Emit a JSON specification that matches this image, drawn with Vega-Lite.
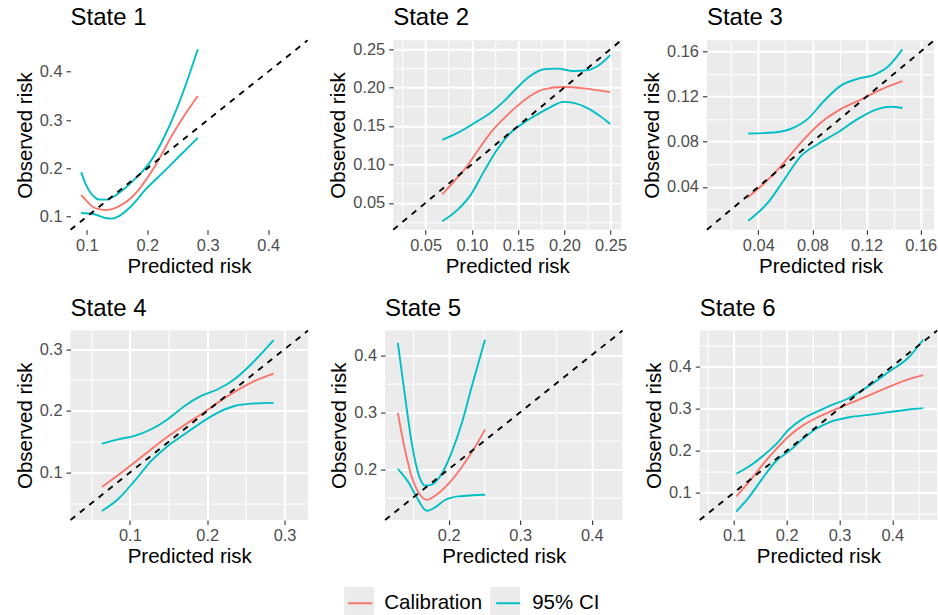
{
"$schema": "https://vega.github.io/schema/vega-lite/v6.json",
"padding": {"left": 14.5, "top": 6.3, "right": 0, "bottom": 0},
"datasets": {
"keys": [{"k": "Calibration"}, {"k": "95% CI"}],
"diag": [
{"p":1,"x":0.073,"y":0.073},{"p":1,"x":0.465,"y":0.465},
{"p":2,"x":0.015,"y":0.015},{"p":2,"x":0.2615,"y":0.2615},
{"p":3,"x":0.002,"y":0.002},{"p":3,"x":0.170,"y":0.170},
{"p":4,"x":0.0232,"y":0.0232},{"p":4,"x":0.3302,"y":0.3302},
{"p":5,"x":0.111,"y":0.111},{"p":5,"x":0.443,"y":0.443},
{"p":6,"x":0.035,"y":0.035},{"p":6,"x":0.485,"y":0.485}
],
"curves": [
{"p":1,"s":"Calibration","l":"c","x":0.0906,"y":0.145},{"p":1,"s":"Calibration","l":"c","x":0.100,"y":0.132},{"p":1,"s":"Calibration","l":"c","x":0.1109,"y":0.1195},{"p":1,"s":"Calibration","l":"c","x":0.122,"y":0.1152},{"p":1,"s":"Calibration","l":"c","x":0.1331,"y":0.1139},{"p":1,"s":"Calibration","l":"c","x":0.144,"y":0.1168},{"p":1,"s":"Calibration","l":"c","x":0.155,"y":0.1228},{"p":1,"s":"Calibration","l":"c","x":0.169,"y":0.1345},{"p":1,"s":"Calibration","l":"c","x":0.1826,"y":0.1506},{"p":1,"s":"Calibration","l":"c","x":0.196,"y":0.173},{"p":1,"s":"Calibration","l":"c","x":0.2101,"y":0.199},{"p":1,"s":"Calibration","l":"c","x":0.224,"y":0.229},{"p":1,"s":"Calibration","l":"c","x":0.2377,"y":0.2612},{"p":1,"s":"Calibration","l":"c","x":0.2597,"y":0.3062},{"p":1,"s":"Calibration","l":"c","x":0.2835,"y":0.3498},
{"p":1,"s":"95% CI","l":"u","x":0.0906,"y":0.1921},{"p":1,"s":"95% CI","l":"u","x":0.098,"y":0.168},{"p":1,"s":"95% CI","l":"u","x":0.1055,"y":0.1506},{"p":1,"s":"95% CI","l":"u","x":0.1125,"y":0.141},{"p":1,"s":"95% CI","l":"u","x":0.1192,"y":0.1355},{"p":1,"s":"95% CI","l":"u","x":0.1331,"y":0.1353},{"p":1,"s":"95% CI","l":"u","x":0.144,"y":0.1412},{"p":1,"s":"95% CI","l":"u","x":0.155,"y":0.1506},{"p":1,"s":"95% CI","l":"u","x":0.1826,"y":0.1817},{"p":1,"s":"95% CI","l":"u","x":0.2046,"y":0.2129},{"p":1,"s":"95% CI","l":"u","x":0.2266,"y":0.2612},{"p":1,"s":"95% CI","l":"u","x":0.2488,"y":0.3234},{"p":1,"s":"95% CI","l":"u","x":0.2653,"y":0.3788},{"p":1,"s":"95% CI","l":"u","x":0.2835,"y":0.4465},
{"p":1,"s":"95% CI","l":"d","x":0.0906,"y":0.1077},{"p":1,"s":"95% CI","l":"d","x":0.1109,"y":0.1056},{"p":1,"s":"95% CI","l":"d","x":0.1331,"y":0.0967},{"p":1,"s":"95% CI","l":"d","x":0.142,"y":0.096},{"p":1,"s":"95% CI","l":"d","x":0.1496,"y":0.0988},{"p":1,"s":"95% CI","l":"d","x":0.1716,"y":0.1195},{"p":1,"s":"95% CI","l":"d","x":0.1992,"y":0.1589},{"p":1,"s":"95% CI","l":"d","x":0.2266,"y":0.1921},{"p":1,"s":"95% CI","l":"d","x":0.2542,"y":0.2266},{"p":1,"s":"95% CI","l":"d","x":0.2835,"y":0.2633},
{"p":2,"s":"Calibration","l":"c","x":0.068,"y":0.0609},{"p":2,"s":"Calibration","l":"c","x":0.0806,"y":0.0775},{"p":2,"s":"Calibration","l":"c","x":0.095,"y":0.098},{"p":2,"s":"Calibration","l":"c","x":0.1058,"y":0.1168},{"p":2,"s":"Calibration","l":"c","x":0.12,"y":0.1408},{"p":2,"s":"Calibration","l":"c","x":0.1345,"y":0.1596},{"p":2,"s":"Calibration","l":"c","x":0.149,"y":0.1758},{"p":2,"s":"Calibration","l":"c","x":0.163,"y":0.189},{"p":2,"s":"Calibration","l":"c","x":0.1777,"y":0.1976},{"p":2,"s":"Calibration","l":"c","x":0.199,"y":0.2007},{"p":2,"s":"Calibration","l":"c","x":0.221,"y":0.199},{"p":2,"s":"Calibration","l":"c","x":0.2496,"y":0.194},
{"p":2,"s":"95% CI","l":"u","x":0.068,"y":0.132},{"p":2,"s":"95% CI","l":"u","x":0.0878,"y":0.143},{"p":2,"s":"95% CI","l":"u","x":0.1058,"y":0.156},{"p":2,"s":"95% CI","l":"u","x":0.12,"y":0.167},{"p":2,"s":"95% CI","l":"u","x":0.1345,"y":0.182},{"p":2,"s":"95% CI","l":"u","x":0.149,"y":0.1998},{"p":2,"s":"95% CI","l":"u","x":0.163,"y":0.215},{"p":2,"s":"95% CI","l":"u","x":0.1777,"y":0.2238},{"p":2,"s":"95% CI","l":"u","x":0.192,"y":0.2247},{"p":2,"s":"95% CI","l":"u","x":0.21,"y":0.2216},{"p":2,"s":"95% CI","l":"u","x":0.2245,"y":0.2225},{"p":2,"s":"95% CI","l":"u","x":0.2389,"y":0.2303},{"p":2,"s":"95% CI","l":"u","x":0.2496,"y":0.2421},
{"p":2,"s":"95% CI","l":"d","x":0.068,"y":0.026},{"p":2,"s":"95% CI","l":"d","x":0.0842,"y":0.0404},{"p":2,"s":"95% CI","l":"d","x":0.0986,"y":0.06},{"p":2,"s":"95% CI","l":"d","x":0.113,"y":0.0906},{"p":2,"s":"95% CI","l":"d","x":0.1273,"y":0.119},{"p":2,"s":"95% CI","l":"d","x":0.1417,"y":0.1408},{"p":2,"s":"95% CI","l":"d","x":0.156,"y":0.154},{"p":2,"s":"95% CI","l":"d","x":0.1705,"y":0.1648},{"p":2,"s":"95% CI","l":"d","x":0.185,"y":0.1745},{"p":2,"s":"95% CI","l":"d","x":0.199,"y":0.1814},{"p":2,"s":"95% CI","l":"d","x":0.21,"y":0.18},{"p":2,"s":"95% CI","l":"d","x":0.2245,"y":0.1736},{"p":2,"s":"95% CI","l":"d","x":0.2389,"y":0.1627},{"p":2,"s":"95% CI","l":"d","x":0.2496,"y":0.1526},
{"p":3,"s":"Calibration","l":"c","x":0.0317,"y":0.0302},{"p":3,"s":"Calibration","l":"c","x":0.042,"y":0.0405},{"p":3,"s":"Calibration","l":"c","x":0.0567,"y":0.0584},{"p":3,"s":"Calibration","l":"c","x":0.0715,"y":0.0793},{"p":3,"s":"Calibration","l":"c","x":0.0863,"y":0.0971},{"p":3,"s":"Calibration","l":"c","x":0.101,"y":0.109},{"p":3,"s":"Calibration","l":"c","x":0.1157,"y":0.1173},{"p":3,"s":"Calibration","l":"c","x":0.1305,"y":0.1263},{"p":3,"s":"Calibration","l":"c","x":0.1465,"y":0.1337},
{"p":3,"s":"95% CI","l":"u","x":0.0326,"y":0.0873},{"p":3,"s":"95% CI","l":"u","x":0.0518,"y":0.0882},{"p":3,"s":"95% CI","l":"u","x":0.0666,"y":0.0927},{"p":3,"s":"95% CI","l":"u","x":0.0764,"y":0.1001},{"p":3,"s":"95% CI","l":"u","x":0.0887,"y":0.1164},{"p":3,"s":"95% CI","l":"u","x":0.101,"y":0.1298},{"p":3,"s":"95% CI","l":"u","x":0.1133,"y":0.1358},{"p":3,"s":"95% CI","l":"u","x":0.1256,"y":0.1394},{"p":3,"s":"95% CI","l":"u","x":0.1355,"y":0.1463},{"p":3,"s":"95% CI","l":"u","x":0.1465,"y":0.162},
{"p":3,"s":"95% CI","l":"d","x":0.0326,"y":0.0099},{"p":3,"s":"95% CI","l":"d","x":0.0469,"y":0.0257},{"p":3,"s":"95% CI","l":"d","x":0.0592,"y":0.0465},{"p":3,"s":"95% CI","l":"d","x":0.0715,"y":0.0673},{"p":3,"s":"95% CI","l":"d","x":0.0838,"y":0.0778},{"p":3,"s":"95% CI","l":"d","x":0.0986,"y":0.0882},{"p":3,"s":"95% CI","l":"d","x":0.1133,"y":0.1001},{"p":3,"s":"95% CI","l":"d","x":0.1281,"y":0.109},{"p":3,"s":"95% CI","l":"d","x":0.1379,"y":0.1111},{"p":3,"s":"95% CI","l":"d","x":0.1465,"y":0.1099},
{"p":4,"s":"Calibration","l":"c","x":0.0638,"y":0.0768},{"p":4,"s":"Calibration","l":"c","x":0.0845,"y":0.0957},{"p":4,"s":"Calibration","l":"c","x":0.106,"y":0.1162},{"p":4,"s":"Calibration","l":"c","x":0.1276,"y":0.1378},{"p":4,"s":"Calibration","l":"c","x":0.1491,"y":0.1584},{"p":4,"s":"Calibration","l":"c","x":0.1707,"y":0.1773},{"p":4,"s":"Calibration","l":"c","x":0.1922,"y":0.1946},{"p":4,"s":"Calibration","l":"c","x":0.2138,"y":0.2135},{"p":4,"s":"Calibration","l":"c","x":0.2353,"y":0.2308},{"p":4,"s":"Calibration","l":"c","x":0.2569,"y":0.246},{"p":4,"s":"Calibration","l":"c","x":0.2858,"y":0.2605},
{"p":4,"s":"95% CI","l":"u","x":0.0638,"y":0.147},{"p":4,"s":"95% CI","l":"u","x":0.0845,"y":0.154},{"p":4,"s":"95% CI","l":"u","x":0.106,"y":0.1595},{"p":4,"s":"95% CI","l":"u","x":0.1276,"y":0.1703},{"p":4,"s":"95% CI","l":"u","x":0.1491,"y":0.1865},{"p":4,"s":"95% CI","l":"u","x":0.1707,"y":0.208},{"p":4,"s":"95% CI","l":"u","x":0.1922,"y":0.2243},{"p":4,"s":"95% CI","l":"u","x":0.2138,"y":0.2351},{"p":4,"s":"95% CI","l":"u","x":0.2353,"y":0.2514},{"p":4,"s":"95% CI","l":"u","x":0.2569,"y":0.2757},{"p":4,"s":"95% CI","l":"u","x":0.2858,"y":0.3146},
{"p":4,"s":"95% CI","l":"d","x":0.0638,"y":0.0378},{"p":4,"s":"95% CI","l":"d","x":0.0845,"y":0.0568},{"p":4,"s":"95% CI","l":"d","x":0.106,"y":0.0865},{"p":4,"s":"95% CI","l":"d","x":0.1276,"y":0.1189},{"p":4,"s":"95% CI","l":"d","x":0.1491,"y":0.1432},{"p":4,"s":"95% CI","l":"d","x":0.1707,"y":0.1622},{"p":4,"s":"95% CI","l":"d","x":0.1922,"y":0.1811},{"p":4,"s":"95% CI","l":"d","x":0.2138,"y":0.1973},{"p":4,"s":"95% CI","l":"d","x":0.2353,"y":0.208},{"p":4,"s":"95% CI","l":"d","x":0.2569,"y":0.2119},{"p":4,"s":"95% CI","l":"d","x":0.2858,"y":0.213},
{"p":5,"s":"Calibration","l":"c","x":0.1288,"y":0.2988},{"p":5,"s":"Calibration","l":"c","x":0.139,"y":0.233},{"p":5,"s":"Calibration","l":"c","x":0.1484,"y":0.1859},{"p":5,"s":"Calibration","l":"c","x":0.1576,"y":0.1594},{"p":5,"s":"Calibration","l":"c","x":0.1693,"y":0.1465},{"p":5,"s":"Calibration","l":"c","x":0.1809,"y":0.1536},{"p":5,"s":"Calibration","l":"c","x":0.1995,"y":0.1742},{"p":5,"s":"Calibration","l":"c","x":0.2181,"y":0.2035},{"p":5,"s":"Calibration","l":"c","x":0.2367,"y":0.2388},{"p":5,"s":"Calibration","l":"c","x":0.2507,"y":0.2695},
{"p":5,"s":"95% CI","l":"u","x":0.1288,"y":0.4213},{"p":5,"s":"95% CI","l":"u","x":0.139,"y":0.327},{"p":5,"s":"95% CI","l":"u","x":0.1484,"y":0.2448},{"p":5,"s":"95% CI","l":"u","x":0.1576,"y":0.1919},{"p":5,"s":"95% CI","l":"u","x":0.1669,"y":0.1712},{"p":5,"s":"95% CI","l":"u","x":0.1763,"y":0.173},{"p":5,"s":"95% CI","l":"u","x":0.1902,"y":0.1919},{"p":5,"s":"95% CI","l":"u","x":0.2042,"y":0.23},{"p":5,"s":"95% CI","l":"u","x":0.2181,"y":0.2801},{"p":5,"s":"95% CI","l":"u","x":0.2321,"y":0.3447},{"p":5,"s":"95% CI","l":"u","x":0.2507,"y":0.4271},
{"p":5,"s":"95% CI","l":"d","x":0.1288,"y":0.2006},{"p":5,"s":"95% CI","l":"d","x":0.1436,"y":0.1771},{"p":5,"s":"95% CI","l":"d","x":0.1554,"y":0.1506},{"p":5,"s":"95% CI","l":"d","x":0.1693,"y":0.1271},{"p":5,"s":"95% CI","l":"d","x":0.1809,"y":0.133},{"p":5,"s":"95% CI","l":"d","x":0.1948,"y":0.146},{"p":5,"s":"95% CI","l":"d","x":0.2134,"y":0.1524},{"p":5,"s":"95% CI","l":"d","x":0.2507,"y":0.1553},
{"p":6,"s":"Calibration","l":"c","x":0.1044,"y":0.0912},{"p":6,"s":"Calibration","l":"c","x":0.1296,"y":0.1272},{"p":6,"s":"Calibration","l":"c","x":0.1547,"y":0.1672},{"p":6,"s":"Calibration","l":"c","x":0.1799,"y":0.2032},{"p":6,"s":"Calibration","l":"c","x":0.205,"y":0.2352},{"p":6,"s":"Calibration","l":"c","x":0.2302,"y":0.2592},{"p":6,"s":"Calibration","l":"c","x":0.2553,"y":0.2768},{"p":6,"s":"Calibration","l":"c","x":0.2805,"y":0.2912},{"p":6,"s":"Calibration","l":"c","x":0.3182,"y":0.3112},{"p":6,"s":"Calibration","l":"c","x":0.356,"y":0.3312},{"p":6,"s":"Calibration","l":"c","x":0.3937,"y":0.3512},{"p":6,"s":"Calibration","l":"c","x":0.4314,"y":0.3696},{"p":6,"s":"Calibration","l":"c","x":0.4585,"y":0.3792},
{"p":6,"s":"95% CI","l":"u","x":0.1044,"y":0.1448},{"p":6,"s":"95% CI","l":"u","x":0.1296,"y":0.1632},{"p":6,"s":"95% CI","l":"u","x":0.1547,"y":0.1872},{"p":6,"s":"95% CI","l":"u","x":0.1799,"y":0.2152},{"p":6,"s":"95% CI","l":"u","x":0.205,"y":0.2512},{"p":6,"s":"95% CI","l":"u","x":0.2302,"y":0.2752},{"p":6,"s":"95% CI","l":"u","x":0.2553,"y":0.2912},{"p":6,"s":"95% CI","l":"u","x":0.2805,"y":0.3056},{"p":6,"s":"95% CI","l":"u","x":0.3182,"y":0.3248},{"p":6,"s":"95% CI","l":"u","x":0.356,"y":0.3536},{"p":6,"s":"95% CI","l":"u","x":0.3937,"y":0.3872},{"p":6,"s":"95% CI","l":"u","x":0.4314,"y":0.4216},{"p":6,"s":"95% CI","l":"u","x":0.4585,"y":0.4632},
{"p":6,"s":"95% CI","l":"d","x":0.1044,"y":0.0552},{"p":6,"s":"95% CI","l":"d","x":0.1296,"y":0.0912},{"p":6,"s":"95% CI","l":"d","x":0.1547,"y":0.1352},{"p":6,"s":"95% CI","l":"d","x":0.1799,"y":0.1752},{"p":6,"s":"95% CI","l":"d","x":0.205,"y":0.1992},{"p":6,"s":"95% CI","l":"d","x":0.2302,"y":0.2272},{"p":6,"s":"95% CI","l":"d","x":0.2553,"y":0.2512},{"p":6,"s":"95% CI","l":"d","x":0.2805,"y":0.2672},{"p":6,"s":"95% CI","l":"d","x":0.3182,"y":0.2792},{"p":6,"s":"95% CI","l":"d","x":0.356,"y":0.2848},{"p":6,"s":"95% CI","l":"d","x":0.3937,"y":0.2912},{"p":6,"s":"95% CI","l":"d","x":0.4314,"y":0.2976},{"p":6,"s":"95% CI","l":"d","x":0.4585,"y":0.3008}
]
},
"vconcat": [
{"hconcat": [
{"width": 237, "height": 189.4, "title": "State 1",
 "layer": [
  {"data": {"name": "diag"}, "transform": [{"filter": "datum.p == 1"}],
   "mark": {"type": "line", "strokeOpacity": 0},
   "encoding": {
    "x": {"field": "x", "type": "quantitative", "scale": {"domain": [0.073, 0.465], "nice": false, "zero": false}, "axis": {"orient": "bottom", "title": null, "values": [0.15, 0.25, 0.35, 0.45], "labels": false, "ticks": false, "domain": false, "grid": true, "gridWidth": 1}},
    "y": {"field": "y", "type": "quantitative", "scale": {"domain": [0.073, 0.465], "nice": false, "zero": false}, "axis": {"orient": "left", "title": null, "values": [0.15, 0.25, 0.35, 0.45], "labels": false, "ticks": false, "domain": false, "grid": true, "gridWidth": 1}}}},
  {"data": {"name": "curves"}, "transform": [{"filter": "datum.p == 1"}],
   "mark": {"type": "line", "interpolate": "monotone", "strokeWidth": 1.9},
   "encoding": {
    "x": {"field": "x", "type": "quantitative", "axis": {"orient": "bottom", "title": "Predicted risk", "values": [0.1, 0.2, 0.3, 0.4], "format": ".1f", "grid": true, "gridWidth": 2}},
    "y": {"field": "y", "type": "quantitative", "axis": {"orient": "left", "title": "Observed risk", "values": [0.1, 0.2, 0.3, 0.4], "format": ".1f", "grid": true, "gridWidth": 2}},
    "color": {"field": "s", "type": "nominal", "scale": {"domain": ["Calibration", "95% CI"], "range": ["#F8766D", "#00BFC4"]},
      "legend": {"orient": "none", "legendX": 273.7, "legendY": 546.7, "direction": "horizontal", "title": null, "symbolType": "M-0.8,0L0.8,0", "symbolSize": 900, "symbolStrokeWidth": 2, "labelFontSize": 20.5, "labelColor": "black", "labelOffset": 8, "columnPadding": 10, "padding": 0, "zindex": 2}},
    "detail": {"field": "l"}
   }},
  {"data": {"name": "keys"}, "mark": {"type": "point", "filled": true, "opacity": 0},
   "encoding": {"fill": {"field": "k", "type": "nominal", "sort": null, "scale": {"range": ["#EBEBEB", "#EBEBEB"]},
      "legend": {"orient": "none", "legendX": 273.7, "legendY": 546.7, "direction": "horizontal", "title": null, "symbolType": "square", "symbolSize": 900, "symbolStrokeWidth": 0, "symbolOpacity": 1, "labelFontSize": 20.5, "labelExpr": "''", "labelOffset": 8, "columnPadding": 108, "padding": 0, "zindex": 1}}}},
  {"data": {"name": "diag"}, "transform": [{"filter": "datum.p == 1"}],
   "mark": {"type": "line", "color": "black", "strokeDash": [6, 6], "strokeWidth": 1.9},
   "encoding": {"x": {"field": "x", "type": "quantitative", "axis": null}, "y": {"field": "y", "type": "quantitative", "axis": null}}}
 ], "resolve": {"axis": {"x": "independent", "y": "independent"}}},
{"width": 228, "height": 189.4, "title": "State 2",
 "layer": [
  {"data": {"name": "diag"}, "transform": [{"filter": "datum.p == 2"}],
   "mark": {"type": "line", "strokeOpacity": 0},
   "encoding": {
    "x": {"field": "x", "type": "quantitative", "scale": {"domain": [0.015, 0.2615], "nice": false, "zero": false}, "axis": {"orient": "bottom", "title": null, "values": [0.025, 0.075, 0.125, 0.175, 0.225], "labels": false, "ticks": false, "domain": false, "grid": true, "gridWidth": 1}},
    "y": {"field": "y", "type": "quantitative", "scale": {"domain": [0.015, 0.2615], "nice": false, "zero": false}, "axis": {"orient": "left", "title": null, "values": [0.025, 0.075, 0.125, 0.175, 0.225], "labels": false, "ticks": false, "domain": false, "grid": true, "gridWidth": 1}}}},
  {"data": {"name": "curves"}, "transform": [{"filter": "datum.p == 2"}],
   "mark": {"type": "line", "interpolate": "monotone", "strokeWidth": 1.9},
   "encoding": {
    "x": {"field": "x", "type": "quantitative", "axis": {"orient": "bottom", "title": "Predicted risk", "values": [0.05, 0.1, 0.15, 0.2, 0.25], "format": ".2f", "grid": true, "gridWidth": 2}},
    "y": {"field": "y", "type": "quantitative", "axis": {"orient": "left", "title": "Observed risk", "values": [0.05, 0.1, 0.15, 0.2, 0.25], "format": ".2f", "grid": true, "gridWidth": 2}},
    "color": {"field": "s", "type": "nominal", "scale": {"domain": ["Calibration", "95% CI"], "range": ["#F8766D", "#00BFC4"]}},
    "detail": {"field": "l"}
   }},
  {"data": {"name": "diag"}, "transform": [{"filter": "datum.p == 2"}],
   "mark": {"type": "line", "color": "black", "strokeDash": [6, 6], "strokeWidth": 1.9},
   "encoding": {"x": {"field": "x", "type": "quantitative", "axis": null}, "y": {"field": "y", "type": "quantitative", "axis": null}}}
 ], "resolve": {"axis": {"x": "independent", "y": "independent"}}},
{"width": 227.3, "height": 189.4, "title": "State 3",
 "layer": [
  {"data": {"name": "diag"}, "transform": [{"filter": "datum.p == 3"}],
   "mark": {"type": "line", "strokeOpacity": 0},
   "encoding": {
    "x": {"field": "x", "type": "quantitative", "scale": {"domain": [0.002, 0.170], "nice": false, "zero": false}, "axis": {"orient": "bottom", "title": null, "values": [0.02, 0.06, 0.1, 0.14], "labels": false, "ticks": false, "domain": false, "grid": true, "gridWidth": 1}},
    "y": {"field": "y", "type": "quantitative", "scale": {"domain": [0.002, 0.170], "nice": false, "zero": false}, "axis": {"orient": "left", "title": null, "values": [0.02, 0.06, 0.1, 0.14], "labels": false, "ticks": false, "domain": false, "grid": true, "gridWidth": 1}}}},
  {"data": {"name": "curves"}, "transform": [{"filter": "datum.p == 3"}],
   "mark": {"type": "line", "interpolate": "monotone", "strokeWidth": 1.9},
   "encoding": {
    "x": {"field": "x", "type": "quantitative", "axis": {"orient": "bottom", "title": "Predicted risk", "values": [0.04, 0.08, 0.12, 0.16], "format": ".2f", "grid": true, "gridWidth": 2}},
    "y": {"field": "y", "type": "quantitative", "axis": {"orient": "left", "title": "Observed risk", "values": [0.04, 0.08, 0.12, 0.16], "format": ".2f", "grid": true, "gridWidth": 2}},
    "color": {"field": "s", "type": "nominal", "scale": {"domain": ["Calibration", "95% CI"], "range": ["#F8766D", "#00BFC4"]}},
    "detail": {"field": "l"}
   }},
  {"data": {"name": "diag"}, "transform": [{"filter": "datum.p == 3"}],
   "mark": {"type": "line", "color": "black", "strokeDash": [6, 6], "strokeWidth": 1.9},
   "encoding": {"x": {"field": "x", "type": "quantitative", "axis": null}, "y": {"field": "y", "type": "quantitative", "axis": null}}}
 ], "resolve": {"axis": {"x": "independent", "y": "independent"}}}
], "bounds": "flush", "spacing": 85.7, "resolve": {"scale": {"x": "independent", "y": "independent"}}},
{"hconcat": [
{"width": 237.4, "height": 189.4, "title": "State 4",
 "layer": [
  {"data": {"name": "diag"}, "transform": [{"filter": "datum.p == 4"}],
   "mark": {"type": "line", "strokeOpacity": 0},
   "encoding": {
    "x": {"field": "x", "type": "quantitative", "scale": {"domain": [0.0232, 0.3302], "nice": false, "zero": false}, "axis": {"orient": "bottom", "title": null, "values": [0.05, 0.15, 0.25], "labels": false, "ticks": false, "domain": false, "grid": true, "gridWidth": 1}},
    "y": {"field": "y", "type": "quantitative", "scale": {"domain": [0.0232, 0.3302], "nice": false, "zero": false}, "axis": {"orient": "left", "title": null, "values": [0.05, 0.15, 0.25], "labels": false, "ticks": false, "domain": false, "grid": true, "gridWidth": 1}}}},
  {"data": {"name": "curves"}, "transform": [{"filter": "datum.p == 4"}],
   "mark": {"type": "line", "interpolate": "monotone", "strokeWidth": 1.9},
   "encoding": {
    "x": {"field": "x", "type": "quantitative", "axis": {"orient": "bottom", "title": "Predicted risk", "values": [0.1, 0.2, 0.3], "format": ".1f", "grid": true, "gridWidth": 2}},
    "y": {"field": "y", "type": "quantitative", "axis": {"orient": "left", "title": "Observed risk", "values": [0.1, 0.2, 0.3], "format": ".1f", "grid": true, "gridWidth": 2}},
    "color": {"field": "s", "type": "nominal", "scale": {"domain": ["Calibration", "95% CI"], "range": ["#F8766D", "#00BFC4"]}},
    "detail": {"field": "l"}
   }},
  {"data": {"name": "diag"}, "transform": [{"filter": "datum.p == 4"}],
   "mark": {"type": "line", "color": "black", "strokeDash": [6, 6], "strokeWidth": 1.9},
   "encoding": {"x": {"field": "x", "type": "quantitative", "axis": null}, "y": {"field": "y", "type": "quantitative", "axis": null}}}
 ], "resolve": {"axis": {"x": "independent", "y": "independent"}}},
{"width": 237.4, "height": 189.4, "title": "State 5",
 "layer": [
  {"data": {"name": "diag"}, "transform": [{"filter": "datum.p == 5"}],
   "mark": {"type": "line", "strokeOpacity": 0},
   "encoding": {
    "x": {"field": "x", "type": "quantitative", "scale": {"domain": [0.111, 0.443], "nice": false, "zero": false}, "axis": {"orient": "bottom", "title": null, "values": [0.15, 0.25, 0.35], "labels": false, "ticks": false, "domain": false, "grid": true, "gridWidth": 1}},
    "y": {"field": "y", "type": "quantitative", "scale": {"domain": [0.111, 0.443], "nice": false, "zero": false}, "axis": {"orient": "left", "title": null, "values": [0.15, 0.25, 0.35], "labels": false, "ticks": false, "domain": false, "grid": true, "gridWidth": 1}}}},
  {"data": {"name": "curves"}, "transform": [{"filter": "datum.p == 5"}],
   "mark": {"type": "line", "interpolate": "monotone", "strokeWidth": 1.9},
   "encoding": {
    "x": {"field": "x", "type": "quantitative", "axis": {"orient": "bottom", "title": "Predicted risk", "values": [0.2, 0.3, 0.4], "format": ".1f", "grid": true, "gridWidth": 2}},
    "y": {"field": "y", "type": "quantitative", "axis": {"orient": "left", "title": "Observed risk", "values": [0.2, 0.3, 0.4], "format": ".1f", "grid": true, "gridWidth": 2}},
    "color": {"field": "s", "type": "nominal", "scale": {"domain": ["Calibration", "95% CI"], "range": ["#F8766D", "#00BFC4"]}},
    "detail": {"field": "l"}
   }},
  {"data": {"name": "diag"}, "transform": [{"filter": "datum.p == 5"}],
   "mark": {"type": "line", "color": "black", "strokeDash": [6, 6], "strokeWidth": 1.9},
   "encoding": {"x": {"field": "x", "type": "quantitative", "axis": null}, "y": {"field": "y", "type": "quantitative", "axis": null}}}
 ], "resolve": {"axis": {"x": "independent", "y": "independent"}}},
{"width": 237.4, "height": 189.4, "title": "State 6",
 "layer": [
  {"data": {"name": "diag"}, "transform": [{"filter": "datum.p == 6"}],
   "mark": {"type": "line", "strokeOpacity": 0},
   "encoding": {
    "x": {"field": "x", "type": "quantitative", "scale": {"domain": [0.035, 0.485], "nice": false, "zero": false}, "axis": {"orient": "bottom", "title": null, "values": [0.05, 0.15, 0.25, 0.35, 0.45], "labels": false, "ticks": false, "domain": false, "grid": true, "gridWidth": 1}},
    "y": {"field": "y", "type": "quantitative", "scale": {"domain": [0.035, 0.485], "nice": false, "zero": false}, "axis": {"orient": "left", "title": null, "values": [0.05, 0.15, 0.25, 0.35, 0.45], "labels": false, "ticks": false, "domain": false, "grid": true, "gridWidth": 1}}}},
  {"data": {"name": "curves"}, "transform": [{"filter": "datum.p == 6"}],
   "mark": {"type": "line", "interpolate": "monotone", "strokeWidth": 1.9},
   "encoding": {
    "x": {"field": "x", "type": "quantitative", "axis": {"orient": "bottom", "title": "Predicted risk", "values": [0.1, 0.2, 0.3, 0.4], "format": ".1f", "grid": true, "gridWidth": 2}},
    "y": {"field": "y", "type": "quantitative", "axis": {"orient": "left", "title": "Observed risk", "values": [0.1, 0.2, 0.3, 0.4], "format": ".1f", "grid": true, "gridWidth": 2}},
    "color": {"field": "s", "type": "nominal", "scale": {"domain": ["Calibration", "95% CI"], "range": ["#F8766D", "#00BFC4"]}},
    "detail": {"field": "l"}
   }},
  {"data": {"name": "diag"}, "transform": [{"filter": "datum.p == 6"}],
   "mark": {"type": "line", "color": "black", "strokeDash": [6, 6], "strokeWidth": 1.9},
   "encoding": {"x": {"field": "x", "type": "quantitative", "axis": null}, "y": {"field": "y", "type": "quantitative", "axis": null}}}
 ], "resolve": {"axis": {"x": "independent", "y": "independent"}}}
], "bounds": "flush", "spacing": 76.6, "resolve": {"scale": {"x": "independent", "y": "independent"}}}
],
"spacing": 19.3,
"resolve": {"scale": {"x": "independent", "y": "independent"}},
"config": {
 "font": "Liberation Sans",
 "view": {"fill": "#EBEBEB", "stroke": null},
 "title": {"anchor": "start", "frame": "group", "fontSize": 24, "fontWeight": "normal", "color": "black", "offset": 6, "baseline": "alphabetic"},
 "axis": {"domain": false, "tickColor": "#333333", "tickSize": 4.5, "tickWidth": 1.1, "labelColor": "#4D4D4D", "labelFontSize": 16.4, "titleFontSize": 20.5, "titleFontWeight": "normal", "titleColor": "black", "gridColor": "#FFFFFF", "gridOpacity": 1, "labelPadding": 4, "labelOverlap": false, "labelFlush": false, "titlePadding": 4},
 "axisX": {"labelPadding": 3.5, "titlePadding": 2}
}
}
